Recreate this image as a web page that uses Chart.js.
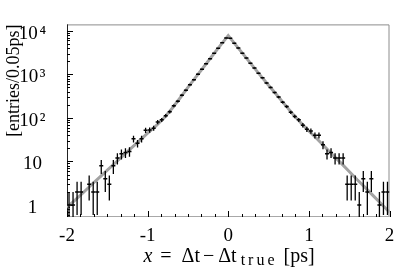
<!DOCTYPE html>
<html>
<head>
<meta charset="utf-8">
<script src="https://cdn.jsdelivr.net/npm/chart.js@4.4.0/dist/chart.umd.min.js"></script>
<style>
  html, body { margin: 0; padding: 0; background: #fff; }
  #wrap { width: 395px; height: 275px; }
</style>
</head>
<body>
<div id="wrap"><canvas id="dt-chart" width="395" height="275"></canvas></div>
<script>
// histogram bin centres (0.05 ps bins)
const binCenters = [
  -1.975, -1.925, -1.875, -1.825, -1.775, -1.725, -1.675, -1.625, -1.575, -1.525,
  -1.475, -1.425, -1.375, -1.325, -1.275, -1.225, -1.175, -1.125, -1.075, -1.025,
  -0.975, -0.925, -0.875, -0.825, -0.775, -0.725, -0.675, -0.625, -0.575, -0.525,
  -0.475, -0.425, -0.375, -0.325, -0.275, -0.225, -0.175, -0.125, -0.075, -0.025,
  0.025, 0.075, 0.125, 0.175, 0.225, 0.275, 0.325, 0.375, 0.425, 0.475,
  0.525, 0.575, 0.625, 0.675, 0.725, 0.775, 0.825, 0.875, 0.925, 0.975,
  1.025, 1.075, 1.125, 1.175, 1.225, 1.275, 1.325, 1.375, 1.425, 1.475,
  1.525, 1.575, 1.625, 1.675, 1.725, 1.775, 1.825, 1.875, 1.925, 1.975
];

// entries per bin (null = empty bin, not drawn on log axis)
const entries = [
  1, 1, 2, 2, null, 3, 2, 2, 8, 4,
  3, 8, 12, 15, 16, 17, 33, 26, 33, 52,
  53, 58, 80, 90, 112, 138, 190, 240, 330, 430,
  580, 750, 1010, 1300, 1750, 2280, 3040, 3950, 5280, 6800,
  6750, 5200, 4000, 3060, 2360, 1800, 1400, 1060, 830, 630,
  500, 380, 300, 228, 182, 135, 108, 90, 68, 55,
  50, 40, 40, 24, 15, 16, 12, 12, 12, 3,
  3, 3, 1, 4, 2, 4, null, 1, 2, 2
];

// fitted resolution function
const fitX = [
  -2.0, -1.9, -1.8, -1.7, -1.6, -1.5, -1.4, -1.3, -1.2, -1.1,
  -1.0, -0.9, -0.8, -0.7, -0.6, -0.5, -0.4, -0.3, -0.2, -0.1,
  0.0,
  0.1, 0.2, 0.3, 0.4, 0.5, 0.6, 0.7, 0.8, 0.9, 1.0,
  1.1, 1.2, 1.3, 1.4, 1.5, 1.6, 1.7, 1.8, 1.9, 2.0
];
const fitY = [
  0.89, 1.29, 1.91, 2.88, 4.27, 6.31, 9.33, 13.8, 20.4, 30.2,
  44.7, 64.6, 97.7, 162, 282, 501, 871, 1514, 2630, 4571,
  7762,
  4571, 2692, 1585, 933, 562, 339, 204, 123, 77.6, 50.1,
  33.1, 21.4, 13.8, 9.12, 5.89, 3.80, 2.51, 1.62, 1.05, 0.68
];

const xTickValues = [-2, -1, 0, 1, 2];
const xTickLabels = ['-2', '-1', '0', '1', '2'];
const yTickValues = [1, 10, 100, 1000, 10000];
const yTickLabels = ['1', '10', '10\u200a²', '10\u200a³', '10\u200a⁴'];

const yTitle = '[entries/0.05ps]';
// x title pieces: text, style, gap after
const xTitleParts = [
  { text: 'x', italic: true, size: 20, gap: 8 },
  { text: '=', size: 20, gap: 10 },
  { text: 'Δt', size: 20, gap: 3 },
  { text: '−', size: 20, gap: 4 },
  { text: 'Δt', size: 20, gap: 4 },
  { text: 'true', size: 16, sub: 3, spacing: 3, gap: 6 },
  { text: '[ps]', size: 20, gap: 0 }
];

const SERIF = '"Liberation Serif", "DejaVu Serif", serif';

const points = [];
binCenters.forEach((c, i) => {
  if (entries[i] != null) points.push({ x: c, y: entries[i] });
});
const fitPoints = fitX.map((v, i) => ({ x: v, y: fitY[i] }));

// frame + inward ticks
const framePlugin = {
  id: 'frame',
  beforeDatasetsDraw(chart) {
    const { ctx, chartArea: a, scales: { x, y } } = chart;
    ctx.save();
    ctx.lineWidth = 1;
    ctx.strokeStyle = '#8c8c8c';
    ctx.beginPath();
    ctx.moveTo(a.left, a.top + 0.5);
    ctx.lineTo(a.right - 0.5, a.top + 0.5);
    ctx.lineTo(a.right - 0.5, a.bottom);
    ctx.stroke();
    ctx.strokeStyle = '#a8a8a8';
    ctx.beginPath();
    ctx.moveTo(a.left, a.bottom - 0.5);
    ctx.lineTo(a.right, a.bottom - 0.5);
    ctx.stroke();
    ctx.strokeStyle = '#222';
    ctx.beginPath();
    ctx.moveTo(a.left + 0.5, a.top);
    ctx.lineTo(a.left + 0.5, a.bottom);
    ctx.stroke();

    // y ticks (log)
    ctx.strokeStyle = '#000';
    ctx.beginPath();
    for (let e = -1; e <= 4; e++) {
      for (let k = 1; k <= 9; k++) {
        const v = k * Math.pow(10, e);
        if (v < y.min || v > y.max) continue;
        const py = Math.round(y.getPixelForValue(v)) + 0.5;
        ctx.moveTo(a.left, py);
        ctx.lineTo(a.left + (k === 1 ? 6 : 3), py);
      }
    }
    // x ticks every 1/6
    for (let k = 0; k <= 24; k++) {
      const v = -2 + k / 6;
      const px = Math.round(x.getPixelForValue(v)) + 0.5;
      ctx.moveTo(px, a.bottom);
      ctx.lineTo(px, a.bottom - (k % 6 === 0 ? 6 : 3));
    }
    ctx.stroke();
    ctx.restore();
  }
};

// vertical error bars (sqrt N)
const errorBarPlugin = {
  id: 'errorBars',
  afterDatasetsDraw(chart) {
    const { ctx, chartArea: a, scales: { x, y } } = chart;
    ctx.save();
    ctx.beginPath();
    ctx.rect(a.left, a.top, a.width, a.height);
    ctx.clip();
    ctx.strokeStyle = '#000';
    ctx.lineWidth = 1.3;
    ctx.beginPath();
    binCenters.forEach((c, i) => {
      const n = entries[i];
      if (n == null) return;
      const err = Math.sqrt(n);
      const px = x.getPixelForValue(c);
      const lo = n - err > y.min ? y.getPixelForValue(n - err) : a.bottom;
      const hi = y.getPixelForValue(n + err);
      ctx.moveTo(px, lo);
      ctx.lineTo(px, hi);
    });
    ctx.stroke();
    ctx.restore();
  }
};

// x axis title with italic x and subscript "true"
const xTitlePlugin = {
  id: 'xTitle',
  afterDraw(chart) {
    const { ctx } = chart;
    ctx.save();
    ctx.fillStyle = '#000';
    ctx.textBaseline = 'alphabetic';
    ctx.textAlign = 'left';
    const fontOf = p => (p.italic ? 'italic ' : '') + p.size + 'px ' + SERIF;
    let total = 0;
    xTitleParts.forEach(p => {
      ctx.font = fontOf(p);
      ctx.letterSpacing = (p.spacing || 0) + 'px';
      total += ctx.measureText(p.text).width + p.gap;
    });
    let cx = 229 - total / 2;
    const base = 262;
    xTitleParts.forEach(p => {
      ctx.font = fontOf(p);
      ctx.letterSpacing = (p.spacing || 0) + 'px';
      ctx.fillText(p.text, cx, base + (p.sub || 0));
      cx += ctx.measureText(p.text).width + p.gap;
    });
    ctx.restore();
  }
};

new Chart(document.getElementById('dt-chart'), {
  data: {
    datasets: [
      {
        type: 'scatter',
        label: 'data',
        data: points,
        pointStyle: 'line',
        pointRadius: 2,
        borderColor: '#000',
        borderWidth: 1.5,
        backgroundColor: '#000'
      },
      {
        type: 'line',
        label: 'fit',
        data: fitPoints,
        borderColor: '#a3a3a3',
        borderWidth: 3,
        pointRadius: 0,
        tension: 0,
        fill: false
      }
    ]
  },
  options: {
    responsive: false,
    animation: false,
    layout: { padding: { top: 10, right: 0, left: 0, bottom: 0 } },
    plugins: { legend: { display: false }, tooltip: { enabled: false } },
    scales: {
      x: {
        type: 'linear',
        min: -2,
        max: 2,
        grid: { display: false },
        border: { display: false },
        afterBuildTicks: s => { s.ticks = xTickValues.map(v => ({ value: v })); },
        ticks: {
          color: '#000',
          font: { family: SERIF, size: 19 },
          padding: 0,
          maxRotation: 0,
          autoSkip: false,
          callback: v => xTickLabels[xTickValues.indexOf(v)] ?? ''
        },
        afterFit: s => { s.height = 58; }
      },
      y: {
        type: 'logarithmic',
        min: 0.53,
        max: 14000,
        grid: { display: false },
        border: { display: false },
        afterBuildTicks: s => { s.ticks = yTickValues.map(v => ({ value: v })); },
        ticks: {
          color: '#000',
          font: { family: SERIF, size: 19 },
          padding: 13,
          labelOffset: 3,
          crossAlign: 'center',
          autoSkip: false,
          callback: v => yTickLabels[yTickValues.indexOf(v)] ?? ''
        },
        title: {
          display: true,
          text: yTitle,
          align: 'end',
          color: '#000',
          font: { family: SERIF, size: 18 },
          padding: { top: 3, bottom: 0 }
        },
        afterFit: s => { s.width = 67; }
      }
    }
  },
  plugins: [framePlugin, errorBarPlugin, xTitlePlugin]
});
</script>
</body>
</html>
